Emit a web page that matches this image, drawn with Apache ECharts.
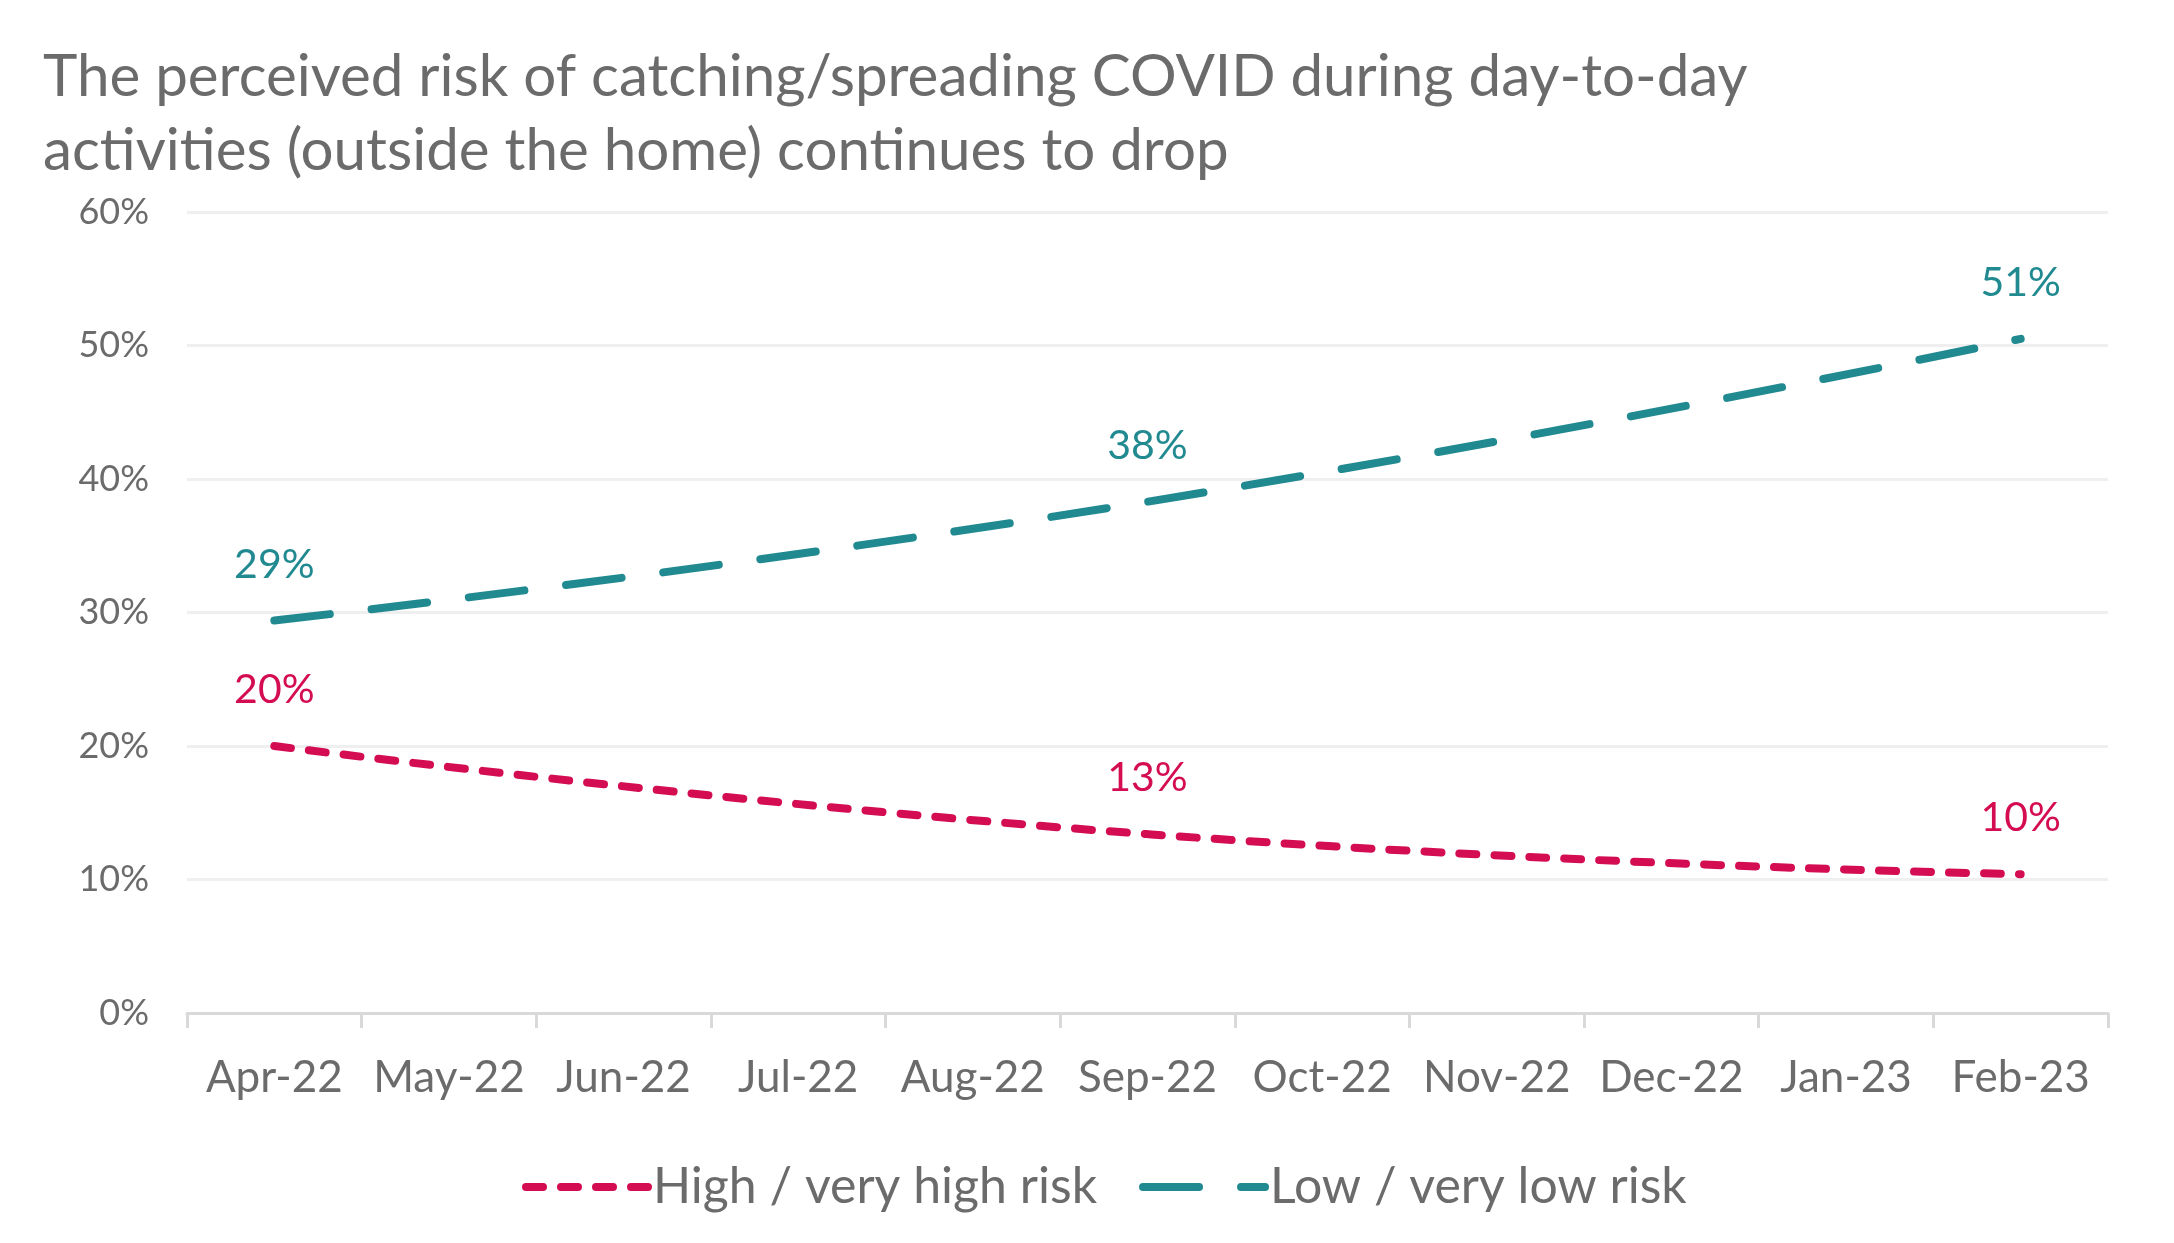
<!DOCTYPE html>
<html>
<head>
<meta charset="utf-8">
<script src="https://cdn.jsdelivr.net/npm/echarts@6/dist/echarts.min.js"></script>
<style>html,body{margin:0;padding:0;background:#fff}#c{width:2174px;height:1243px}</style>
</head>
<body>
<div id="c"></div>
<script>
const titleText = 'The perceived risk of catching/spreading COVID during day-to-day\nactivities (outside the home) continues to drop';
const categories = ['Apr-22','May-22','Jun-22','Jul-22','Aug-22','Sep-22','Oct-22','Nov-22','Dec-22','Jan-23','Feb-23'];
const highRisk = [20.0, null, null, null, null, 13.4, null, null, null, null, 10.4];
const lowRisk  = [29.4, null, null, null, null, 38.3, null, null, null, null, 50.5];
const seriesNames = ['High / very high risk', 'Low / very low risk'];

const RED = '#D40C52', TEAL = '#218A91', GREY = '#6B6B6B';
const FONT = 'Lato';
const RED_DASH = [17, 18], TEAL_DASH = [56, 42];

const chart = echarts.init(document.getElementById('c'));
function lab(color){
  return {show:true, position:'top', distance:35, color:color, fontFamily:FONT, fontSize:41,
    formatter:p => p.value == null ? '' : Math.round(p.value) + '%'};
}
chart.setOption({
  animation:false,
  backgroundColor:'#fff',
  title:{text:titleText, left:38, top:35,
    textStyle:{fontFamily:FONT, fontSize:58.3, fontWeight:'normal', color:GREY, lineHeight:74}},
  grid:{left:187, right:66, top:212, bottom:230},
  legend:{left:517, top:1157, itemWidth:122, itemHeight:20, itemGap:42,
    textStyle:{fontFamily:FONT, fontSize:50, color:GREY},
    data:[
      {name:seriesNames[0], itemStyle:{color:'rgba(0,0,0,0)', borderWidth:0},
       lineStyle:{color:RED, width:8, type:RED_DASH, cap:'round'}},
      {name:seriesNames[1], itemStyle:{color:'rgba(0,0,0,0)', borderWidth:0},
       lineStyle:{color:TEAL, width:8, type:TEAL_DASH, cap:'round'}}
    ]},
  xAxis:{type:'category', data:categories, boundaryGap:true,
    axisLine:{lineStyle:{color:'#D9D9D9', width:3}},
    axisTick:{show:true, length:15, lineStyle:{color:'#D9D9D9', width:3}},
    axisLabel:{fontFamily:FONT, fontSize:44, color:GREY, margin:43, interval:0}},
  yAxis:{type:'value', min:0, max:60, interval:10,
    axisLine:{show:false}, axisTick:{show:false},
    splitLine:{lineStyle:{color:'#EFEFEF', width:3}},
    axisLabel:{fontFamily:FONT, fontSize:36, color:GREY, margin:38, formatter:v => v + '%'}},
  series:[
    {name:seriesNames[0], type:'line', data:highRisk, connectNulls:true, smooth:0.5,
     symbol:'circle', symbolSize:1, showSymbol:true, color:RED,
     itemStyle:{color:'rgba(0,0,0,0)'},
     lineStyle:{color:RED, width:8, type:RED_DASH, cap:'round'},
     label:lab(RED), z:3},
    {name:seriesNames[1], type:'line', data:lowRisk, connectNulls:true, smooth:0.5,
     symbol:'circle', symbolSize:1, showSymbol:true, color:TEAL,
     itemStyle:{color:'rgba(0,0,0,0)'},
     lineStyle:{color:TEAL, width:8, type:TEAL_DASH, cap:'round'},
     label:lab(TEAL), z:3}
  ]
});
</script>
</body>
</html>
